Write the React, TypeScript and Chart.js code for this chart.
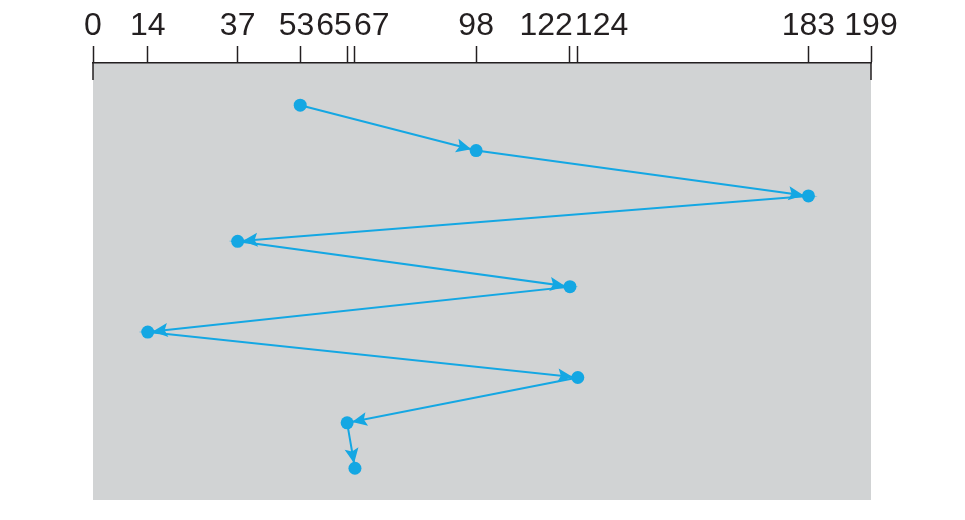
import React, { useEffect, useRef } from "react";
import { Chart, registerables } from "chart.js";

Chart.register(...registerables);

// FCFS head movement: start at 53, then serve the queue in order
const requests = [53, 98, 183, 37, 122, 14, 124, 65, 67];
const tickValues = [0, 14, 37, 53, 65, 67, 98, 122, 124, 183, 199];
const cylinderMin = 0;
const cylinderMax = 199;

const BLUE = "#14a7e3";
const INK = "#231f20";
const GRAY = "#d1d3d4";
const LABEL_FONT = "32px 'Liberation Sans', Arial, sans-serif";

const bgPlugin = {
  id: "bg",
  beforeDraw(chart: any) {
    const { ctx, chartArea } = chart;
    ctx.save();
    ctx.fillStyle = GRAY;
    ctx.fillRect(chartArea.left, chartArea.top, chartArea.right - chartArea.left, chartArea.bottom - chartArea.top);
    ctx.restore();
  },
  afterDraw(chart: any) {
    const { ctx, chartArea } = chart;
    const xs = chart.scales.x;
    ctx.save();
    // end ticks extend into the plot
    ctx.strokeStyle = INK;
    ctx.lineWidth = 1.5;
    [cylinderMin, cylinderMax].forEach((v) => {
      const px = xs.getPixelForValue(v);
      ctx.beginPath();
      ctx.moveTo(px, chartArea.top);
      ctx.lineTo(px, chartArea.top + 17);
      ctx.stroke();
    });
    // tick labels, spread apart where they would overlap
    ctx.font = LABEL_FONT;
    ctx.fillStyle = INK;
    ctx.textAlign = "center";
    ctx.textBaseline = "alphabetic";
    const gap = 2;
    const items = tickValues.map((v) => {
      const text = String(v);
      return { text, px: xs.getPixelForValue(v), w: ctx.measureText(text).width };
    });
    let groups: any[] = items.map((it) => ({ members: [it] }));
    const layout = (g: any) => {
      const total = g.members.reduce((s: number, m: any) => s + m.w, 0) + gap * (g.members.length - 1);
      const mean = g.members.reduce((s: number, m: any) => s + m.px, 0) / g.members.length;
      g.left = mean - total / 2;
      g.right = mean + total / 2;
    };
    groups.forEach(layout);
    let merged = true;
    while (merged) {
      merged = false;
      for (let i = 0; i < groups.length - 1; i++) {
        if (groups[i].right + gap > groups[i + 1].left) {
          const g = { members: groups[i].members.concat(groups[i + 1].members) };
          layout(g);
          groups.splice(i, 2, g);
          merged = true;
          break;
        }
      }
    }
    groups.forEach((g: any) => {
      let x = g.left;
      g.members.forEach((m: any) => {
        ctx.fillText(m.text, x + m.w / 2, chartArea.top - 28);
        x += m.w + gap;
      });
    });
    ctx.restore();
  },
};

const arrowPlugin = {
  id: "arrows",
  afterDatasetsDraw(chart: any) {
    const { ctx } = chart;
    const pts = chart.getDatasetMeta(0).data;
    ctx.save();
    ctx.fillStyle = BLUE;
    for (let i = 1; i < pts.length; i++) {
      const a = pts[i - 1];
      const b = pts[i];
      const dx = b.x - a.x;
      const dy = b.y - a.y;
      const len = Math.hypot(dx, dy);
      const ux = dx / len;
      const uy = dy / len;
      const nx = -uy;
      const ny = ux;
      const r = 5;
      const tipX = b.x - ux * r;
      const tipY = b.y - uy * r;
      const L = 15;
      const W = 7;
      const backX = tipX - ux * L;
      const backY = tipY - uy * L;
      const notchX = tipX - ux * L * 0.8;
      const notchY = tipY - uy * L * 0.8;
      ctx.beginPath();
      ctx.moveTo(tipX, tipY);
      ctx.lineTo(backX + nx * W, backY + ny * W);
      ctx.lineTo(notchX, notchY);
      ctx.lineTo(backX - nx * W, backY - ny * W);
      ctx.closePath();
      ctx.fill();
    }
    ctx.restore();
  },
};

export default function App() {
  const ref = useRef<HTMLCanvasElement>(null);
  useEffect(() => {
    if (!ref.current) return;
    const chart = new Chart(ref.current, {
      type: "line",
      data: {
        datasets: [
          {
            data: requests.map((v, i) => ({ x: v, y: i })),
            borderColor: BLUE,
            backgroundColor: BLUE,
            borderWidth: 2,
            pointRadius: 6.5,
            pointHoverRadius: 6.5,
            pointBorderWidth: 0,
            pointBackgroundColor: BLUE,
            tension: 0,
          },
        ],
      },
      options: {
        animation: false,
        responsive: false,
        maintainAspectRatio: false,
        layout: { padding: { left: 93, right: 94, top: 0, bottom: 20 } },
        plugins: { legend: { display: false }, tooltip: { enabled: false } },
        scales: {
          x: {
            type: "linear",
            position: "top",
            min: cylinderMin,
            max: cylinderMax,
            afterBuildTicks: (scale: any) => {
              scale.ticks = tickValues.map((v) => ({ value: v }));
            },
            afterFit: (scale: any) => {
              scale.height = 63;
            },
            border: { display: true, color: INK, width: 1.5 },
            grid: {
              display: true,
              drawOnChartArea: false,
              drawTicks: true,
              tickLength: 17,
              tickWidth: 1.5,
              tickColor: INK,
            },
            ticks: { display: false, autoSkip: false },
          },
          y: {
            type: "linear",
            min: -0.93,
            max: 8.7,
            reverse: true,
            display: false,
          },
        },
      },
      plugins: [bgPlugin, arrowPlugin],
    });
    return () => chart.destroy();
  }, []);
  return (
    <div style={{ position: "absolute", left: 0, top: 0, width: 965, height: 520, background: "#fff" }}>
      <canvas ref={ref} width={965} height={520} style={{ width: 965, height: 520, display: "block" }} />
    </div>
  );
}
